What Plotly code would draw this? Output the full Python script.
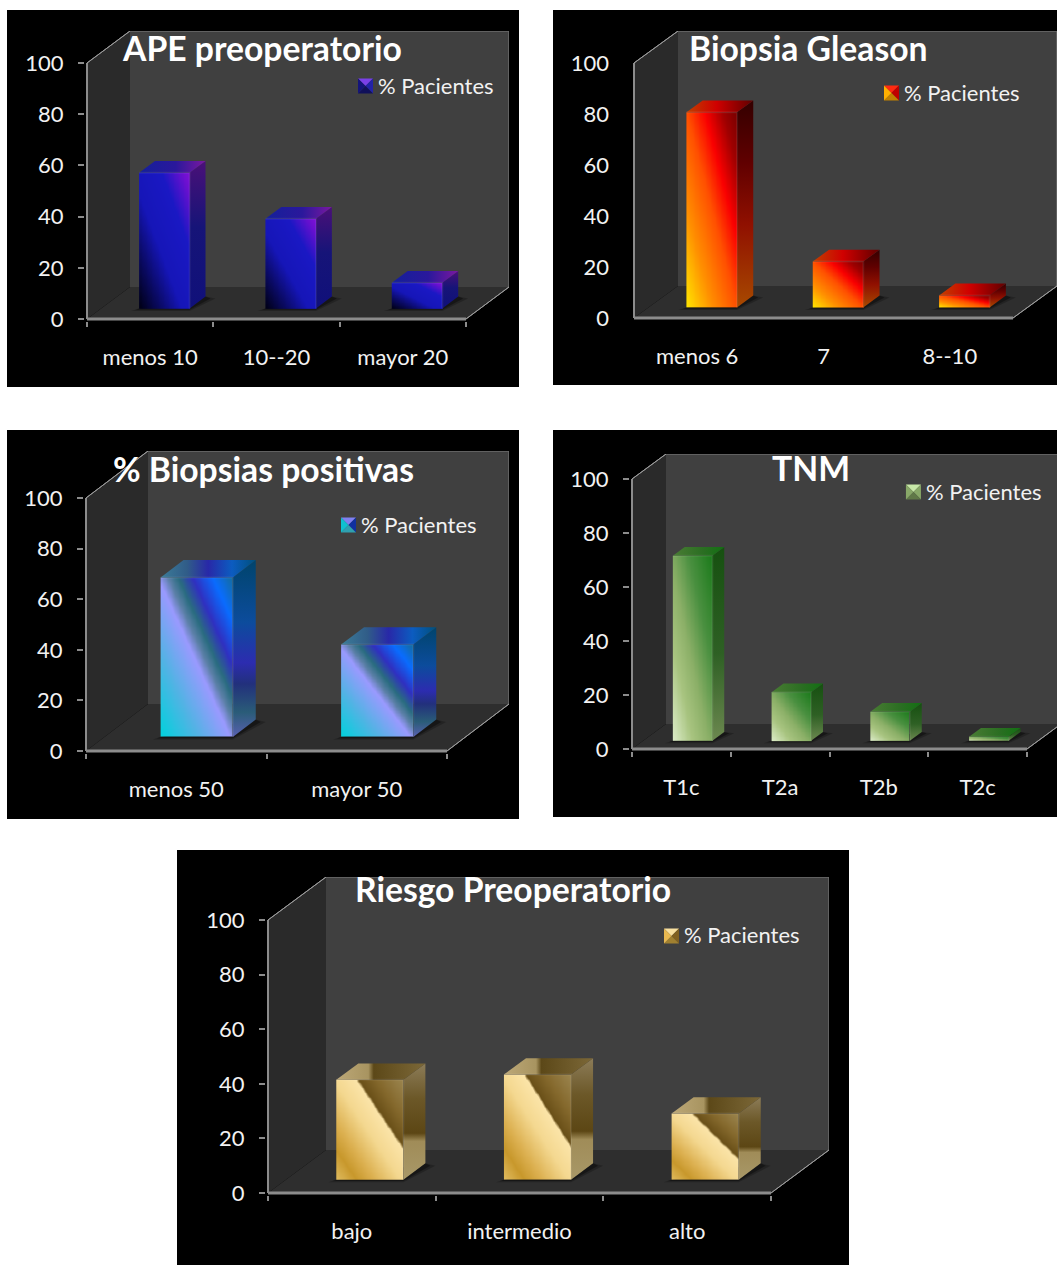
import plotly.graph_objects as go

# ---- chart data ----
APE_TITLE = "APE preoperatorio"
APE_CATEGORIES = ["menos 10", "10--20", "mayor 20"]
APE_VALUES = [53, 35, 10]

GLEASON_TITLE = "Biopsia Gleason"
GLEASON_CATEGORIES = ["menos 6", "7", "8--10"]
GLEASON_VALUES = [76.5, 18, 4.7]

POSITIVAS_TITLE = "% Biopsias positivas"
POSITIVAS_CATEGORIES = ["menos 50", "mayor 50"]
POSITIVAS_VALUES = [63, 36.5]

TNM_TITLE = "TNM"
TNM_CATEGORIES = ["T1c", "T2a", "T2b", "T2c"]
TNM_VALUES = [68.5, 18, 10.7, 1.5]

RIESGO_TITLE = "Riesgo Preoperatorio"
RIESGO_CATEGORIES = ["bajo", "intermedio", "alto"]
RIESGO_VALUES = [36.6, 38.5, 24.2]

SERIES_NAME = "% Pacientes"
VALUE_TICKS = [0, 20, 40, 60, 80, 100]

W, H = 1057, 1265
FONT = "Lato"
TEXT = "#f2f2f2"
BACK_WALL = "#404040"
SIDE_WALL = "#2a2a2a"
FLOOR = "#2e2e2e"
EDGE = "#8c8c8c"
AXIS_PAD = 2  # room in pixels so the front axis lines are not trimmed by the plot area

# ---- colour ramps for each series ----
BLUE = dict(
    front=[[0, "#000014"], [0.2, "#0a0a60"], [0.42, "#1616b8"], [0.72, "#1a18c4"], [0.92, "#6a10d0"], [1, "#8010d8"]],
    side=[[0, "#10107a"], [0.55, "#161478"], [1, "#4a1078"]],
    top=[[0, "#14209a"], [0.55, "#2a189c"], [1, "#7a18a0"]],
    swatch=("#7a40e8", "#14147a", "#2222a8", "#10105a"),
)
FIRE = dict(
    front=[[0, "#ffe600"], [0.25, "#ff9000"], [0.5, "#ff5000"], [0.68, "#fa0000"], [0.86, "#a00000"], [1, "#780000"]],
    side=[[0, "#a84a00"], [0.4, "#901000"], [0.7, "#600000"], [1, "#340000"]],
    top=[[0, "#c04000"], [0.45, "#d00000"], [1, "#600000"]],
    swatch=("#ff2a10", "#ffb000", "#c00000", "#c08000"),
)
AQUA = dict(
    front=[[0, "#00d2dc"], [0.25, "#50b4e4"], [0.48, "#9a9aff"], [0.55, "#5c80a8"], [0.62, "#2a6c80"],
           [0.72, "#3030c0"], [0.86, "#0a6cff"], [1, "#146c9c"]],
    side=[[0, "#5860b0"], [0.14, "#2a5c78"], [0.3, "#22307c"], [0.42, "#2c2cb0"], [0.65, "#0c4c9c"], [1, "#00446c"]],
    top=[[0, "#3c7c98"], [0.28, "#305c88"], [0.5, "#2828a8"], [0.75, "#0c5cc0"], [1, "#00507c"]],
    swatch=("#8080f0", "#10c0d0", "#1030a0", "#30a0b0"),
)
GREEN = dict(
    front=[[0, "#dcecc8"], [0.25, "#a8c480"], [0.45, "#8cb068"], [0.7, "#4a9040"], [1, "#1a7a1a"]],
    side=[[0, "#6c8850"], [0.45, "#2e6024"], [1, "#165010"]],
    top=[[0, "#4a7c34"], [0.6, "#2a6e22"], [1, "#127012"]],
    swatch=("#c8e8a8", "#88a868", "#88a868", "#607848"),
)
GOLD = dict(
    front=[[0, "#e0bc60"], [0.15, "#c8982c"], [0.28, "#dcb050"], [0.48, "#f4d890"], [0.645, "#fbe4a8"],
           [0.665, "#6a5018"], [0.8, "#84682c"], [1, "#9c8650"]],
    side=[[0, "#a89868"], [0.33, "#a08c58"], [0.4, "#5c4614"], [0.7, "#6c5828"], [1, "#8c7c58"]],
    top=[[0, "#bca878"], [0.36, "#a89460"], [0.42, "#5c4818"], [1, "#7c6838"]],
    swatch=("#f8e0a0", "#e8b850", "#806020", "#a08030"),
)

# ---- panel geometry, in page pixels ----
PANELS = [
    dict(title=APE_TITLE, cats=APE_CATEGORIES, vals=APE_VALUES, ramp=BLUE, ticks=True,
         box=(7, 10, 519, 387), x0=87, x1=466, y0=319, y100=63, dx=43, dy=32,
         bar=0.40, d0=0.33, d1=0.70, lift=0.33, title_xy=(262, 48), leg=(358, 86)),
    dict(title=GLEASON_TITLE, cats=GLEASON_CATEGORIES, vals=GLEASON_VALUES, ramp=FIRE, ticks=False,
         box=(553, 10, 1057, 385), x0=634, x1=1013, y0=318, y100=63, dx=44, dy=32,
         bar=0.40, d0=0.33, d1=0.70, lift=0.33, title_xy=(808, 48), leg=(884, 93)),
    dict(title=POSITIVAS_TITLE, cats=POSITIVAS_CATEGORIES, vals=POSITIVAS_VALUES, ramp=AQUA, ticks=True,
         box=(7, 430, 519, 819), x0=86, x1=447, y0=751, y100=498, dx=62, dy=47,
         bar=0.40, d0=0.33, d1=0.70, lift=0.30, title_xy=(263, 469), leg=(341, 525)),
    dict(title=TNM_TITLE, cats=TNM_CATEGORIES, vals=TNM_VALUES, ramp=GREEN, ticks=True,
         box=(553, 430, 1057, 817), x0=632, x1=1027, y0=749, y100=479, dx=34, dy=25,
         bar=0.40, d0=0.33, d1=0.68, lift=0.33, title_xy=(811, 468), leg=(906, 492)),
    dict(title=RIESGO_TITLE, cats=RIESGO_CATEGORIES, vals=RIESGO_VALUES, ramp=GOLD, ticks=True,
         box=(177, 850, 849, 1265), x0=268, x1=771, y0=1193, y100=920, dx=58, dy=43,
         bar=0.40, d0=0.31, d1=0.69, lift=0.31, title_xy=(513, 889), leg=(664, 936)),
]

fig = go.Figure()
shapes, annotations, layout_axes = [], [], {}


def px(x):
    return x / W


def py(y):
    return 1 - y / H


def poly(points):
    return "M " + " L ".join(f"{a:.4f},{b:.4f}" for a, b in points) + " Z"


def add_panel(n, p):
    suffix = "" if n == 0 else str(n + 1)
    xname, yname = "x" + suffix, "y" + suffix
    count = len(p["cats"])
    cat_w = (p["x1"] - p["x0"]) / count
    unit = (p["y0"] - p["y100"]) / 100
    deep_x = p["dx"] / cat_w
    deep_y = p["dy"] / unit
    left = -0.5
    right = count - 0.5

    # Axes fill the whole box including the receding walls; the page edge trims the widest one.
    page_right = min(p["x1"] + p["dx"], W)
    layout_axes["xaxis" + suffix] = dict(
        domain=[px(p["x0"] - AXIS_PAD), px(page_right)],
        range=[left - AXIS_PAD / cat_w, left + (page_right - p["x0"]) / cat_w],
        anchor=yname, showgrid=False, zeroline=False, showline=False, automargin=False,
        tickmode="array", tickvals=list(range(count)), ticktext=p["cats"],
        ticks="", ticklabelstandoff=21,
        tickfont=dict(family=FONT, size=22, color=TEXT),
        minor=dict(tickmode="array", tickvals=[left + k for k in range(count + 1)],
                   ticks="outside" if p["ticks"] else "", ticklen=5, tickcolor=EDGE, tickwidth=2, showgrid=False),
    )
    layout_axes["yaxis" + suffix] = dict(
        domain=[py(p["y0"] + AXIS_PAD), py(p["y100"] - p["dy"])],
        range=[-AXIS_PAD / unit, 100 + deep_y],
        anchor=xname, showgrid=False, zeroline=False, showline=False, automargin=False,
        tickmode="array", tickvals=VALUE_TICKS,
        ticks="outside" if p["ticks"] else "", ticklen=6, tickcolor=EDGE, tickwidth=2,
        ticklabelstandoff=10 if p["ticks"] else 22,
        tickfont=dict(family=FONT, size=22, color=TEXT),
    )

    def scene(points, fill, line=None, width=0):
        shapes.append(dict(type="path", path=poly(points), xref=xname, yref=yname, layer="below",
                           fillcolor=fill, line=dict(color=line or "rgba(0,0,0,0)", width=width)))

    # walls and floor of the box
    scene([(left + deep_x, deep_y), (right + deep_x, deep_y), (right + deep_x, 100 + deep_y), (left + deep_x, 100 + deep_y)], BACK_WALL)
    scene([(left, 0), (left + deep_x, deep_y), (left + deep_x, 100 + deep_y), (left, 100)], SIDE_WALL)
    scene([(left, 0), (right, 0), (right + deep_x, deep_y), (left + deep_x, deep_y)], FLOOR)

    for a, b in [((left + deep_x, 100 + deep_y), (right + deep_x, 100 + deep_y)),
                 ((right + deep_x, 100 + deep_y), (right + deep_x, deep_y))]:
        scene([a, b], "rgba(0,0,0,0)", "#6c6c6c", 1)
    for a, b in [((left, 100), (left + deep_x, 100 + deep_y)),
                 ((right, 0), (right + deep_x, deep_y))]:
        scene([a, b], "rgba(0,0,0,0)", "#9a9a9a", 1)
    scene([(left, 0), (left, 100)], "rgba(0,0,0,0)", EDGE, 2)
    scene([(left, 0), (right, 0)], "rgba(0,0,0,0)", EDGE, 3)

    half = p["bar"] / 2
    for i, value in enumerate(p["vals"]):
        xa = i - half + p["d0"] * deep_x
        xb = i + half + p["d0"] * deep_x
        base = p["lift"] * deep_y
        top = base + value
        run_x = (p["d1"] - p["d0"]) * deep_x
        run_y = (p["d1"] - p["d0"]) * deep_y

        # soft contact shadow on the floor, sized in pixels
        for grow, alpha in [(10, 0.22), (5, 0.35)]:
            gx, gy = grow / cat_w, 0.25 * grow / unit
            scene([(xa - gx * 0.8, base - gy), (xb, base - gy),
                   (xb + run_x + gx, base + run_y * 0.85), (xb + run_x, base + run_y), (xa, base)],
                  f"rgba(0,0,0,{alpha})")

        # front face: diagonal shading across the face
        rows, cols = 60, 30
        xs = [xa + (xb - xa) * c / cols for c in range(cols + 1)]
        ys = [base + value * r / rows for r in range(rows + 1)]
        z = [[((c + 0.5) / cols + (r + 0.5) / rows) / 2 for c in range(cols)] for r in range(rows)]
        fig.add_trace(go.Heatmap(x=xs, y=ys, z=z, zmin=0, zmax=1, colorscale=p["ramp"]["front"],
                                 zsmooth="best", showscale=False, hoverinfo="skip",
                                 xaxis=xname, yaxis=yname))
        # side and top faces
        fig.add_trace(go.Scatter(
            x=[xb, xb + run_x, xb + run_x, xb, xb], y=[base, base + run_y, top + run_y, top, base],
            mode="lines", line=dict(width=0), fill="toself", hoverinfo="skip", showlegend=False,
            fillgradient=dict(type="vertical", colorscale=p["ramp"]["side"]),
            xaxis=xname, yaxis=yname))
        fig.add_trace(go.Scatter(
            x=[xa, xb, xb + run_x, xa + run_x, xa], y=[top, top, top + run_y, top + run_y, top],
            mode="lines", line=dict(width=0), fill="toself", hoverinfo="skip", showlegend=False,
            fillgradient=dict(type="horizontal", colorscale=p["ramp"]["top"]),
            xaxis=xname, yaxis=yname))
        # faint bevel along the front face's top and right edges
        fig.add_trace(go.Scatter(
            x=[xa, xb, xb], y=[top, top, base], mode="lines",
            line=dict(color="rgba(255,255,255,0.07)", width=2),
            hoverinfo="skip", showlegend=False, xaxis=xname, yaxis=yname))

    # panel title
    annotations.append(dict(text=f"<b>{p['title']}</b>", x=px(p["title_xy"][0]), y=py(p["title_xy"][1]),
                            xref="paper", yref="paper", xanchor="center", yanchor="middle", showarrow=False,
                            font=dict(family=FONT, size=33.7, color="#ffffff")))
    # legend key and label
    lx, ly = p["leg"]
    size = 15
    top_c, left_c, right_c, bottom_c = p["ramp"]["swatch"]
    corners = [(lx, ly - size / 2), (lx + size, ly - size / 2), (lx + size, ly + size / 2), (lx, ly + size / 2)]
    centre = (lx + size / 2, ly)
    for (a, b), colour in zip([(0, 1), (1, 2), (2, 3), (3, 0)], [top_c, right_c, bottom_c, left_c]):
        tri = [corners[a], corners[b], centre]
        shapes.append(dict(type="path", xref="paper", yref="paper", fillcolor=colour, line=dict(width=0),
                           path=poly([(px(u), py(v)) for u, v in tri]), layer="above"))
    annotations.append(dict(text=SERIES_NAME, x=px(lx + size + 3), y=py(ly - 1), xref="paper", yref="paper",
                            xanchor="left", yanchor="middle", showarrow=False,
                            font=dict(family=FONT, size=22, color=TEXT)))


# black card behind each panel
for p in PANELS:
    x_a, y_a, x_b, y_b = p["box"]
    shapes.append(dict(type="rect", xref="paper", yref="paper", layer="below", line=dict(width=0),
                       fillcolor="#000000", x0=px(x_a), x1=px(x_b), y0=py(y_b), y1=py(y_a)))

for n, p in enumerate(PANELS):
    add_panel(n, p)

fig.update_layout(
    width=W, height=H, autosize=False,
    margin=dict(l=0, r=0, t=0, b=0, pad=0, autoexpand=False),
    paper_bgcolor="#ffffff", plot_bgcolor="rgba(0,0,0,0)",
    showlegend=False, shapes=shapes, annotations=annotations,
    **layout_axes,
)
fig.write_html("out.html", config=dict(displayModeBar=False), default_width=f"{W}px", default_height=f"{H}px")
